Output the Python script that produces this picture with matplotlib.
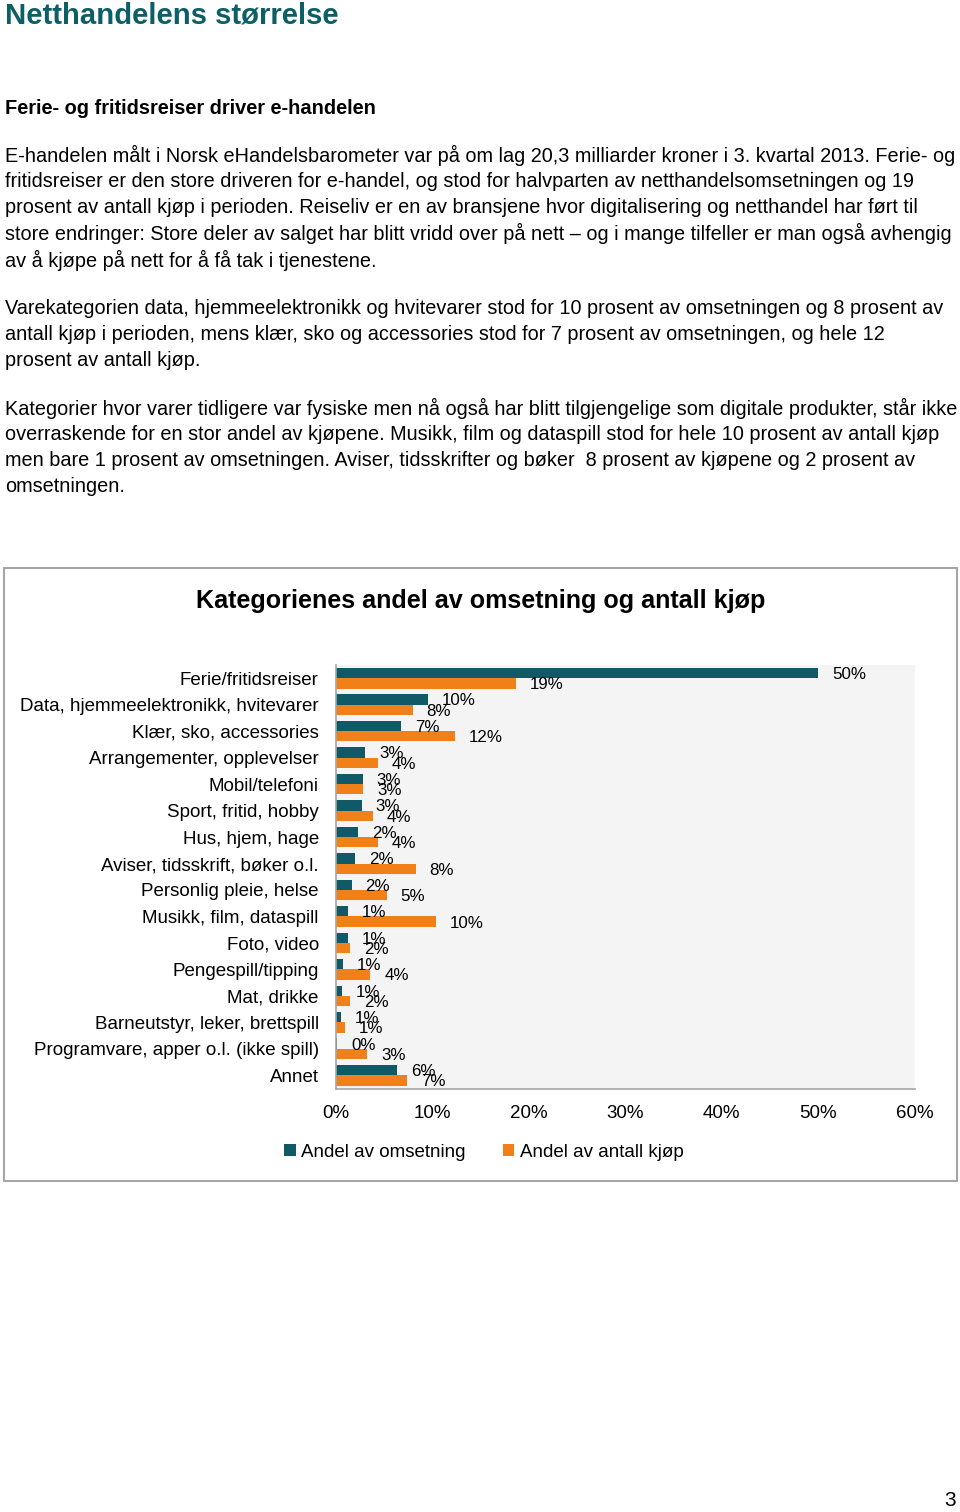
import matplotlib
matplotlib.use("Agg")
import matplotlib.pyplot as plt
from matplotlib.patches import Rectangle

plt.rcParams['font.family'] = ['Liberation Sans', 'DejaVu Sans']

W, H = 960, 1512

# --- chart data ---
categories = [
    "Ferie/fritidsreiser", "Data, hjemmeelektronikk, hvitevarer", "Klær, sko, accessories",
    "Arrangementer, opplevelser", "Mobil/telefoni", "Sport, fritid, hobby",
    "Hus, hjem, hage", "Aviser, tidsskrift, bøker o.l.", "Personlig pleie, helse",
    "Musikk, film, dataspill", "Foto, video", "Pengespill/tipping", "Mat, drikke",
    "Barneutstyr, leker, brettspill", "Programvare, apper o.l. (ikke spill)", "Annet",
]
omsetning = [50.0, 9.6, 6.8, 3.1, 2.8, 2.7, 2.35, 2.0, 1.66, 1.3, 1.25, 0.73, 0.7, 0.6, 0.2, 6.4]
antall_kjop = [18.7, 8.0, 12.4, 4.4, 2.9, 3.9, 4.4, 8.3, 5.3, 10.4, 1.5, 3.6, 1.5, 0.97, 3.3, 7.4]
series_names = ["Andel av omsetning", "Andel av antall kjøp"]
xticks = [0, 10, 20, 30, 40, 50, 60]

TEAL = "#0f5a66"
ORANGE = "#f28018"

# --- page text ---
heading = "Netthandelens størrelse"
subheading = "Ferie- og fritidsreiser driver e-handelen"
paragraphs = [
    ["E-handelen målt i Norsk eHandelsbarometer var på om lag 20,3 milliarder kroner i 3. kvartal 2013. Ferie- og",
     "fritidsreiser er den store driveren for e-handel, og stod for halvparten av netthandelsomsetningen og 19",
     "prosent av antall kjøp i perioden. Reiseliv er en av bransjene hvor digitalisering og netthandel har ført til",
     "store endringer: Store deler av salget har blitt vridd over på nett – og i mange tilfeller er man også avhengig",
     "av å kjøpe på nett for å få tak i tjenestene."],
    ["Varekategorien data, hjemmeelektronikk og hvitevarer stod for 10 prosent av omsetningen og 8 prosent av",
     "antall kjøp i perioden, mens klær, sko og accessories stod for 7 prosent av omsetningen, og hele 12",
     "prosent av antall kjøp."],
    ["Kategorier hvor varer tidligere var fysiske men nå også har blitt tilgjengelige som digitale produkter, står ikke",
     "overraskende for en stor andel av kjøpene. Musikk, film og dataspill stod for hele 10 prosent av antall kjøp",
     "men bare 1 prosent av omsetningen. Aviser, tidsskrifter og bøker  8 prosent av kjøpene og 2 prosent av",
     "omsetningen."],
]
para_tops = [155, 308, 408]


def fx(x):
    return x / W


def fy(y):
    return 1 - y / H


fig = plt.figure(figsize=(W / 100, H / 100), dpi=100)

fig.text(fx(5), fy(16), heading, fontsize=21.1, fontweight="bold", color="#0d5f66", va="center")
fig.text(fx(5), fy(108.5), subheading, fontsize=14.4, fontweight="bold", va="center")
for top, lines in zip(para_tops, paragraphs):
    for i, line in enumerate(lines):
        fig.text(fx(5), fy(top + i * 26.3), line, fontsize=14.3, va="center")

fig.text(fx(950), fy(1500), "3", fontsize=15, ha="center", va="center")

# chart frame
fig.patches.append(Rectangle((fx(4), fy(1181)), fx(953), 613 / H, transform=fig.transFigure,
                             facecolor="white", edgecolor="#a6a6a6", lw=1.5, zorder=-1))
fig.text(fx(481), fy(601.5), "Kategorienes andel av omsetning og antall kjøp",
         fontsize=18.1, fontweight="bold", ha="center", va="center")

ax = fig.add_axes([fx(335.5), fy(1088.5), (914.5 - 335.5) / W, (1088.5 - 665) / H])
ax.set_facecolor("#f4f4f4")
y = list(range(len(categories)))
bh = 0.39
y_teal = [v - bh / 2 for v in y]
y_orange = [v + bh / 2 for v in y]
ax.barh(y_teal, omsetning, height=bh, color=TEAL, label=series_names[0])
ax.barh(y_orange, antall_kjop, height=bh, color=ORANGE, label=series_names[1])

for yy, v in zip(y_teal, omsetning):
    ax.annotate(f"{v:.0f}%", (v, yy), xytext=(10, -1), textcoords="offset points",
                fontsize=12.2, va="center", ha="left")
for yy, v in zip(y_orange, antall_kjop):
    ax.annotate(f"{v:.0f}%", (v, yy), xytext=(10, -1), textcoords="offset points",
                fontsize=12.2, va="center", ha="left")

ax.set_xlim(0, 60)
ax.set_ylim(len(categories) - 0.5, -0.5)
ax.set_yticks(y)
ax.set_yticklabels(categories, fontsize=13.5)
ax.set_xticks(xticks)
ax.set_xticklabels([f"{t}%" for t in xticks], fontsize=13.5)
ax.tick_params(axis="both", length=0)
ax.tick_params(axis="y", pad=12)
ax.tick_params(axis="x", pad=12)
for s in ["top", "right"]:
    ax.spines[s].set_visible(False)
for s in ["left", "bottom"]:
    ax.spines[s].set_color("#a6a6a6")
    ax.spines[s].set_linewidth(1.2)

fig.legend(loc="center", bbox_to_anchor=(fx(484), fy(1152.5)), ncol=2, frameon=False,
           fontsize=13.5, handlelength=0.6, handleheight=0.6, handletextpad=0.3,
           columnspacing=2.0)

fig.savefig("out.png", dpi=100)
